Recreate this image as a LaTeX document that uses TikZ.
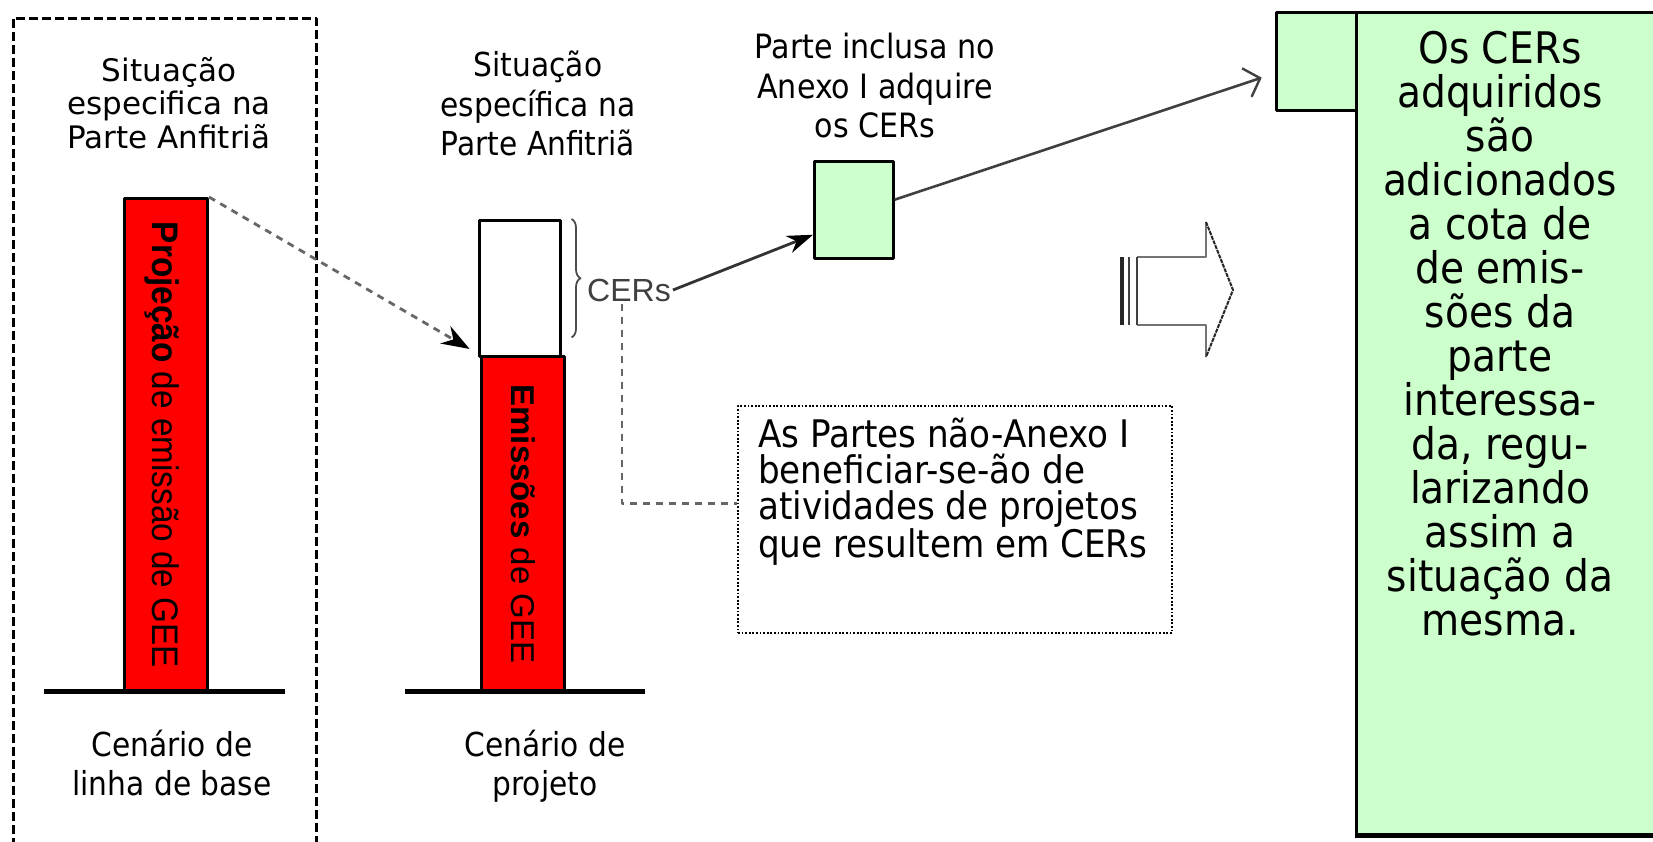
\documentclass[tikz,border=0pt]{standalone}
\usepackage{fontspec}
\setmainfont{DejaVu Sans Condensed}
\setsansfont{Liberation Sans}
\newfontfamily\largafont{DejaVu Sans}
\usetikzlibrary{arrows.meta,decorations.pathreplacing}
\definecolor{verdeclaro}{HTML}{CCFFCC}
\tikzset{
  barra/.style={draw=black, line width=3pt, fill=red, anchor=north west, inner sep=0pt},
  caixaverde/.style={draw=black, line width=2.5pt, fill=verdeclaro, anchor=north west, inner sep=0pt},
  linhabase/.style={line width=5pt},
  titulo/.style={align=center, inner sep=0pt, anchor=north},
  tracejado/.style={draw=black!60, line width=2.8pt, dash pattern=on 7pt off 6pt},
}
\begin{document}
\begin{tikzpicture}[x=1pt,y=-1pt,>=stealth, line join=round]
\useasboundingbox (0,0) rectangle (1653,841);
\clip (0,0) rectangle (1653,841);
% cenario de linha de base
\draw[line width=3pt, dash pattern=on 9pt off 4pt] (13,860) -- (13,18) -- (316,18) -- (316,860);
\node[titulo, font=\largafont\fontsize{31}{33.5}\selectfont] (sit1) at (169,57) {Situação\\especifica na\\Parte Anfitriã};
\node[barra, minimum width=83pt, minimum height=493pt] (projecao) at (123,197) {};
\node[rotate=-90, font=\sffamily\fontsize{37}{40}\selectfont] at ([xshift=-4pt]projecao.center) {\scalebox{0.9}[1]{\textbf{Projeção} de emissão de GEE}};
\draw[linhabase] (44,691) -- (285,691);
\node[titulo, font=\fontsize{33}{39}\selectfont] (cen1) at (172,730) {Cenário de\\linha de base};
% cenario de projeto
\node[titulo, font=\fontsize{33}{39.5}\selectfont] (sit2) at (538,51) {Situação\\específica na\\Parte Anfitriã};
\node[draw=black, line width=2.5pt, fill=white, anchor=north west, inner sep=0pt, minimum width=81pt, minimum height=136pt] (cers) at (478,219) {};
\node[barra, minimum width=83pt, minimum height=335pt] (emissoes) at (480,355) {};
\node[rotate=-90, font=\sffamily\fontsize{33}{36}\selectfont] at (emissoes.center) {\textbf{Emissões} de GEE};
\draw[linhabase] (405,691) -- (645,691);
\node[titulo, font=\fontsize{33}{39}\selectfont] (cen2) at (545,730) {Cenário de\\projeto};
\draw[draw=black!70, line width=1.8pt, decorate, decoration={brace, amplitude=9pt}] ([xshift=10pt]cers.north east) -- ([xshift=10pt,yshift=20pt]cers.south east);
\node[font=\sffamily\fontsize{32}{34}\selectfont, text=black!75, inner sep=2pt] (rotulo) at (629,290) {CERs};
\draw[tracejado, -{Stealth[length=28pt,width=20pt,color=black]}, shorten >=12pt] (projecao.north east) -- (emissoes.north west);
% nota
\node[draw=black, line width=1.8pt, dash pattern=on 1.8pt off 1.8pt, anchor=north west, inner sep=0pt, minimum width=434pt, minimum height=227pt] (nota) at (737,405) {};
\node[anchor=north west, align=left, inner sep=0pt, font=\fontsize{38}{36}\selectfont] (notatexto) at (758,418) {As Partes não-Anexo I\\beneficiar-se-ão de\\atividades de projetos\\que resultem em CERs};
\draw[tracejado] ([xshift=-7pt]rotulo.south) |- ([yshift=16pt]nota.west);
% compra dos CERs
\node[titulo, font=\fontsize{33.5}{39.5}\selectfont] (parte) at (875,33) {Parte inclusa no\\Anexo I adquire\\os CERs};
\node[caixaverde, minimum width=79pt, minimum height=97pt] (compra) at (813,160) {};
\draw[black!80, line width=2.8pt, -{Stealth[length=26pt,width=18pt,color=black]}] (rotulo.east) -- ([yshift=-25pt]compra.west);
\node[caixaverde, minimum width=80pt, minimum height=98pt] (aba) at (1275,11) {};
\draw[black!75, line width=2.6pt, -{Straight Barb[length=14pt,width=30pt,line width=2.4pt]}, shorten >=14pt] ([yshift=10pt]compra.east) -- ([yshift=-12pt]aba.west);
% seta de bloco
\draw[black!55, line width=2pt] (1137,257) -- (1206,257) -- (1206,222);
\draw[black!55, line width=2pt] (1137,325) -- (1206,325) -- (1206,357);
\draw[black!85, line width=2pt, dash pattern=on 4pt off 1pt] (1206,222) -- (1233,290) -- (1206,357);
\draw[black!85, line width=4pt] (1122,257) -- (1122,325);
\foreach \xl in {1129,1137}
  \draw[black!75, line width=2pt] (\xl,257) -- (\xl,325);
% cota
\node[caixaverde, minimum width=345pt, minimum height=822pt] (cota) at (1355,11) {};
\draw[line width=5pt] (cota.south west) -- (cota.south east);
\node[titulo, font=\fontsize{43.5}{44}\selectfont] (cotatexto) at (1500,31) {Os CERs\\adquiridos\\são\\adicionados\\a cota de\\de emis-\\sões da\\parte\\interessa-\\da, regu-\\larizando\\assim a\\situação da\\mesma.};
\end{tikzpicture}
\end{document}
